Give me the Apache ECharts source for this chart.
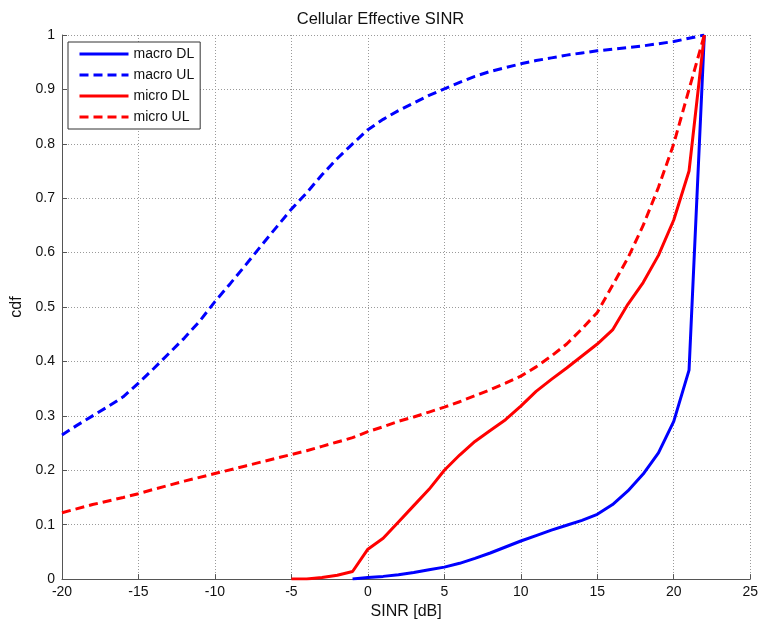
<!DOCTYPE html>
<html>
<head>
<meta charset="utf-8">
<title>Cellular Effective SINR</title>
<script src="https://cdn.jsdelivr.net/npm/echarts@6/dist/echarts.min.js"></script>
<style>
  html, body { margin: 0; padding: 0; background: #ffffff; }
  #chart { width: 761px; height: 625px; }
</style>
</head>
<body>
<div id="chart"></div>
<script>
// SINR sample points (dB) and the CDF values of each curve
const macroDlSinr = [-1, 0, 1, 2, 3, 4, 5, 6, 7, 8, 9, 10, 11, 12, 13, 14, 15, 16, 17, 18, 19, 20, 21, 22];
const macroDlCdf  = [0, 0.003, 0.005, 0.008, 0.012, 0.017, 0.022, 0.029, 0.038, 0.048, 0.059, 0.070, 0.080, 0.090, 0.099, 0.108, 0.119, 0.137, 0.162, 0.193, 0.232, 0.290, 0.384, 1.0];

const macroUlSinr = [-20, -19, -18, -17, -16, -15, -14, -13, -12, -11, -10, -9, -8, -7, -6, -5, -4, -3, -2, -1, 0, 1, 2, 3, 4, 5, 6, 7, 8, 9, 10, 11, 12, 13, 14, 15, 16, 17, 18, 19, 20, 21, 22];
const macroUlCdf  = [0.265, 0.283, 0.300, 0.317, 0.335, 0.360, 0.387, 0.415, 0.443, 0.474, 0.510, 0.543, 0.577, 0.612, 0.646, 0.680, 0.710, 0.743, 0.773, 0.800, 0.826, 0.845, 0.861, 0.875, 0.889, 0.901, 0.913, 0.924, 0.933, 0.940, 0.947, 0.953, 0.958, 0.963, 0.967, 0.971, 0.974, 0.977, 0.980, 0.984, 0.988, 0.994, 1.0];

const microDlSinr = [-5, -4, -3, -2, -1, 0, 1, 2, 3, 4, 5, 6, 7, 8, 9, 10, 11, 12, 13, 14, 15, 16, 17, 18, 19, 20, 21, 22];
const microDlCdf  = [0, 0, 0.003, 0.007, 0.014, 0.055, 0.075, 0.105, 0.135, 0.165, 0.200, 0.228, 0.253, 0.273, 0.293, 0.318, 0.345, 0.367, 0.388, 0.410, 0.432, 0.458, 0.505, 0.545, 0.595, 0.660, 0.750, 1.0];

const microUlSinr = [-20, -18, -16, -15, -14, -12, -10, -8, -6, -5, -4, -3, -2, -1, 0, 1, 2, 3, 4, 5, 6, 7, 8, 9, 10, 11, 12, 13, 14, 15, 16, 17, 18, 19, 20, 21, 22];
const microUlCdf  = [0.122, 0.137, 0.150, 0.157, 0.165, 0.180, 0.194, 0.208, 0.222, 0.229, 0.236, 0.244, 0.252, 0.260, 0.271, 0.280, 0.290, 0.298, 0.307, 0.316, 0.326, 0.337, 0.348, 0.360, 0.373, 0.390, 0.410, 0.432, 0.460, 0.490, 0.540, 0.590, 0.650, 0.720, 0.800, 0.900, 1.0];

const seriesNames = ['macro DL', 'macro UL', 'micro DL', 'micro UL'];

function pairs(xs, ys) {
  return xs.map((x, i) => [x, ys[i]]);
}

const FONT = '"Liberation Sans", Arial, Helvetica, sans-serif';
const TEXT = '#111111';
const AXIS = '#555555';
const BLUE = '#0000ff';
const RED = '#ff0000';
const DASH = [9, 5];

function curve(name, xs, ys, color, dashed) {
  return {
    name: name,
    type: 'line',
    data: pairs(xs, ys),
    showSymbol: false,
    symbol: 'none',
    smooth: false,
    animation: false,
    lineStyle: { color: color, width: 3, type: dashed ? DASH : 'solid' },
    itemStyle: { color: color }
  };
}

const chart = echarts.init(document.getElementById('chart'), null, { renderer: 'canvas' });

chart.setOption({
  backgroundColor: '#ffffff',
  animation: false,
  textStyle: { fontFamily: FONT },
  title: {
    text: 'Cellular Effective SINR',
    left: 'center',
    top: 6,
    textStyle: { fontFamily: FONT, fontSize: 16.5, fontWeight: 'normal', color: TEXT }
  },
  legend: {
    data: seriesNames,
    orient: 'vertical',
    left: 68,
    top: 42,
    itemWidth: 49,
    itemHeight: 14,
    itemGap: 7,
    padding: [5, 6, 5, 10],
    backgroundColor: '#ffffff',
    borderColor: '#333333',
    borderWidth: 1,
    borderRadius: 0,
    // only the line sample is shown in each entry, no marker
    itemStyle: { opacity: 0 },
    lineStyle: { width: 3 },
    textStyle: { fontFamily: FONT, fontSize: 14, color: TEXT }
  },
  grid: { left: 62, right: 10, top: 35, bottom: 45, containLabel: false },
  xAxis: {
    type: 'value',
    min: -20,
    max: 25,
    interval: 5,
    name: 'SINR [dB]',
    nameLocation: 'middle',
    nameGap: 22,
    nameTextStyle: { fontFamily: FONT, fontSize: 16, color: TEXT },
    axisLine: { show: true, onZero: false, lineStyle: { color: AXIS, width: 1 } },
    axisTick: { show: true, inside: true, length: 5, lineStyle: { color: AXIS } },
    axisLabel: { fontFamily: FONT, fontSize: 14, color: TEXT, margin: 6 },
    splitLine: { show: true, lineStyle: { color: '#9a9a9a', width: 1, type: [1, 2] } }
  },
  yAxis: {
    type: 'value',
    min: 0,
    max: 1,
    interval: 0.1,
    name: 'cdf',
    nameLocation: 'middle',
    nameGap: 33,
    nameTextStyle: { fontFamily: FONT, fontSize: 16, color: TEXT },
    axisLine: { show: true, onZero: false, lineStyle: { color: AXIS, width: 1 } },
    axisTick: { show: true, inside: true, length: 5, lineStyle: { color: AXIS } },
    axisLabel: { fontFamily: FONT, fontSize: 14, color: TEXT, margin: 7 },
    splitLine: { show: true, lineStyle: { color: '#9a9a9a', width: 1, type: [1, 2] } }
  },
  series: [
    curve(seriesNames[0], macroDlSinr, macroDlCdf, BLUE, false),
    curve(seriesNames[1], macroUlSinr, macroUlCdf, BLUE, true),
    curve(seriesNames[2], microDlSinr, microDlCdf, RED, false),
    curve(seriesNames[3], microUlSinr, microUlCdf, RED, true)
  ]
});
</script>
</body>
</html>
